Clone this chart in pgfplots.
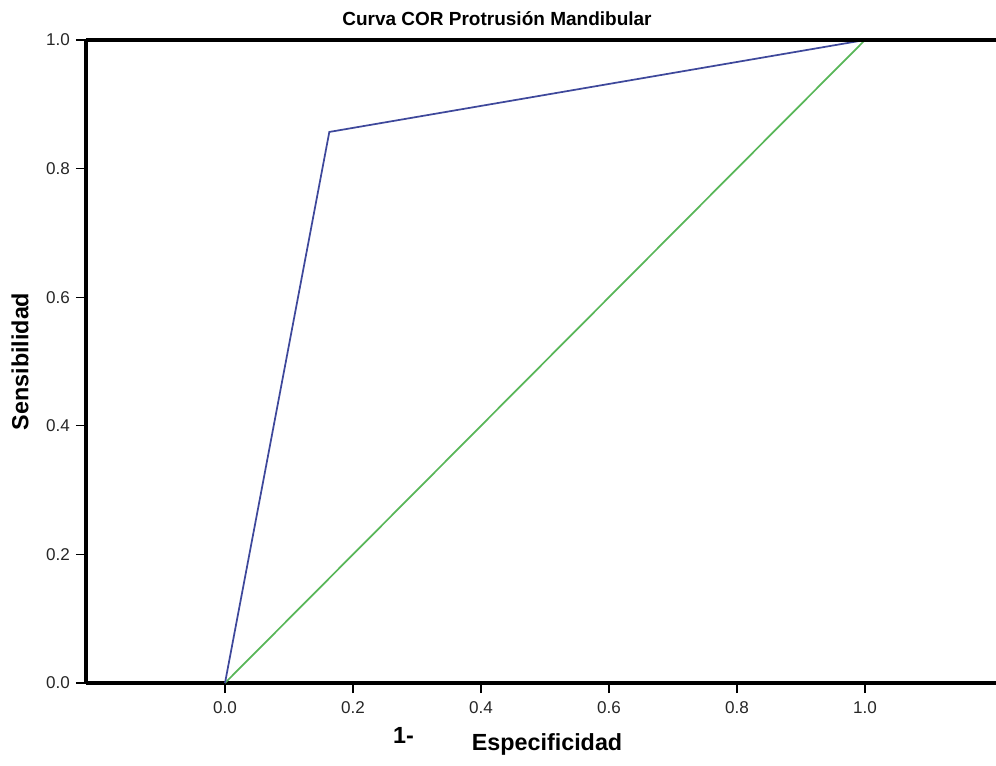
\documentclass[border=0pt]{standalone}
\usepackage{pgfplots}
\pgfplotsset{compat=1.18}
\usepackage{fontspec}
\setmainfont{Liberation Sans}
\definecolor{rocblue}{RGB}{62,72,155}
\definecolor{rocgreen}{RGB}{88,182,88}
\begin{document}
\begin{tikzpicture}
\begin{axis}[
    scale only axis,
    width=682.5pt,
    height=482.25pt,
    xmin=-0.2172, xmax=1.2047,
    ymin=0, ymax=1,
    axis lines*=left,
    axis line style={line width=3pt},
    tick align=outside,
    major tick length=7.5pt,
    tick style={black, line width=0.9pt},
    xtick={0,0.2,0.4,0.6,0.8,1.0},
    ytick={0,0.2,0.4,0.6,0.8,1.0},
    /pgf/number format/assume math mode=true,
    /pgf/number format/.cd, fixed, fixed zerofill, precision=1,
    /pgfplots/.cd,
    tick label style={font=\fontsize{12.8}{14}\selectfont, text=black!85},
    xticklabel style={yshift=-3pt},
    yticklabel style={xshift=-1pt},
    clip=false,
]
\addplot[rocgreen, line width=1.3pt] coordinates {(0,0) (1,1)};
\addplot[rocblue, line width=1.3pt] coordinates {(0,0) (0.163,0.857) (1,1)};
\draw[line width=3pt] (rel axis cs:0,1) -- (rel axis cs:1,1);
\node[font=\fontsize{14.25}{16}\selectfont\bfseries] at (axis description cs:0.4516,1.034) {Curva COR Protrusión Mandibular};
\node[font=\fontsize{17.5}{20}\selectfont\bfseries, rotate=90] at (axis description cs:-0.0725,0.5) {Sensibilidad};
\node[font=\fontsize{17.5}{20}\selectfont\bfseries, anchor=base] at (axis description cs:0.349,-0.0933) {1-};
\node[font=\fontsize{17.5}{20}\selectfont\bfseries, anchor=base] at (axis description cs:0.5066,-0.1042) {Especificidad};
\end{axis}
\pgfresetboundingbox
\path[use as bounding box] (-64.5pt,-61.5pt) rectangle (682.5pt,512.25pt);
\end{tikzpicture}
\end{document}
